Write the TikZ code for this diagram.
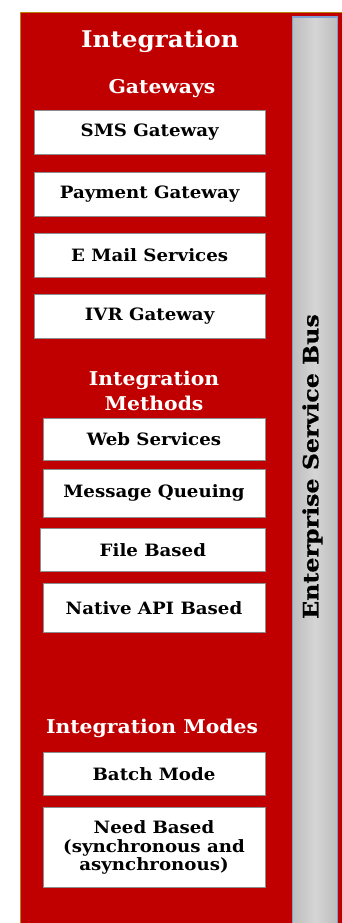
\documentclass[tikz,border=0pt]{standalone}
\usepackage{fontspec}
\setmainfont{DejaVu Serif}[FakeStretch=1.07]
\newfontfamily\busfont{DejaVu Serif}[FakeStretch=1.13, BoldFeatures={FakeBold=0.6}]
\definecolor{panelred}{HTML}{C00000}
\definecolor{panelrim}{HTML}{B8860B}
\definecolor{busrim}{HTML}{7F9FD3}
\definecolor{busedge}{HTML}{BDBDBD}
\definecolor{busmid}{HTML}{D5D5D5}
\tikzset{
  itembox/.style={draw=black!45, fill=white, line width=0.8pt, inner sep=0pt,
    align=center, text=black, font=\bfseries\fontsize{17}{18.5}\selectfont},
  heading/.style={text=white, align=center, inner sep=0pt,
    font=\bfseries\fontsize{19}{25}\selectfont},
}
\begin{document}
\begin{tikzpicture}[x=1pt,y=-1pt]
\useasboundingbox (0,0) rectangle (342,923);
% red integration panel
\fill[panelred] (20,12.5) rectangle (345,930);
\draw[panelrim, line width=0.8pt] (345,12.5) -- (20,12.5) -- (20,930);
% enterprise service bus column
\shade[left color=busedge, right color=busedge, middle color=busmid]
  (292.3,17) rectangle (337.7,930);
\draw[busrim, line width=1.2pt] (292.3,930) -- (292.3,17) -- (337.7,17) -- (337.7,930);
\node[rotate=90, inner sep=0pt, text=black,
  font=\busfont\bfseries\fontsize{21}{24}\selectfont] (esb) at (312.5,466.5) {Enterprise Service Bus};

% headings
\node[heading, font=\bfseries\fontsize{23}{28}\selectfont] (title) at (160,41) {Integration};
\node[heading] (gw) at (162,89) {Gateways};
\node[heading] (im) at (154,391) {Integration\\Methods};
\node[heading] (mo) at (152,728) {Integration Modes};

% gateways
\node[itembox, minimum width=230.7pt, minimum height=43.6pt] (sms) at (149.65,132.5) {SMS Gateway};
\node[itembox, minimum width=230.7pt, minimum height=43.7pt] (pay) at (149.65,194.15) {Payment Gateway};
\node[itembox, minimum width=230.7pt, minimum height=43.3pt] (mail) at (149.65,255.35) {E Mail Services};
\node[itembox, minimum width=230.7pt, minimum height=43.6pt] (ivr) at (149.65,316.5) {IVR Gateway};

% integration methods
\node[itembox, minimum width=222pt, minimum height=42pt] (web) at (154,439) {Web Services};
\node[itembox, minimum width=222pt, minimum height=48pt] (mq) at (154,493.3) {Message Queuing};
\node[itembox, minimum width=224.3pt, minimum height=42.3pt] (file) at (152.85,549.85) {File Based};
\node[itembox, minimum width=222pt, minimum height=48.3pt] (api) at (154,607.85) {Native API Based};

% integration modes
\node[itembox, minimum width=222pt, minimum height=42.3pt] (batch) at (154,773.85) {Batch Mode};
\node[itembox, minimum width=222pt, minimum height=79.6pt] (need) at (154,847.5)
  {Need Based\\(synchronous and\\asynchronous)};
\end{tikzpicture}
\end{document}
